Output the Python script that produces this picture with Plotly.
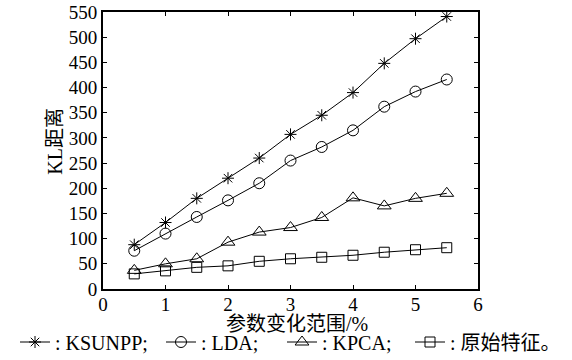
import plotly.graph_objects as go

x_vals = [0.5, 1, 1.5, 2, 2.5, 3, 3.5, 4, 4.5, 5, 5.5]
ksunpp = [88, 132, 180, 220, 260, 307, 345, 390, 448, 497, 541]
lda = [76, 110, 143, 176, 210, 255, 282, 315, 362, 392, 416]
kpca = [37, 50, 60, 93, 113, 122, 142, 181, 165, 180, 190]
orig = [30, 36, 43, 46, 55, 60, 63, 67, 73, 78, 82]

names = [": KSUNPP;", ": LDA;", ": KPCA;", ": 原始特征。"]
symbols = ["asterisk-open", "circle-open", "triangle-up-open", "square-open"]
sizes = [10, 11, 12, 10]
series = [ksunpp, lda, kpca, orig]
legend_ids = ["legend", "legend2", "legend3", "legend4"]
legend_x = [15, 161, 282, 410]

FONT = "'Times New Roman', 'Liberation Serif', serif"
FONT_CJK = "'Times New Roman', 'Liberation Serif', 'Noto Sans CJK SC', serif"

fig = go.Figure()
for name, ys, sym, sz, lid in zip(names, series, symbols, sizes, legend_ids):
    fig.add_trace(go.Scatter(
        x=x_vals, y=ys, name=name, mode="lines+markers", legend=lid,
        showlegend=True,
        line=dict(color="black", width=1),
        marker=dict(symbol=sym, size=sz, color="black",
                    line=dict(color="black", width=1)),
    ))

axis_common = dict(
    showline=True, linecolor="black", linewidth=2, mirror="ticks",
    ticks="inside", ticklen=4, tickwidth=1, tickcolor="black",
    showgrid=False, zeroline=False,
    tickfont=dict(family=FONT, size=19, color="black"),
)

layout_legends = {}
for lid, lx in zip(legend_ids, legend_x):
    layout_legends[lid] = dict(
        xref="container", yref="container",
        x=lx / 572, xanchor="left", y=1 - 342 / 360, yanchor="middle",
        font=dict(family=FONT_CJK, size=20, color="black"),
        bgcolor="rgba(0,0,0,0)", borderwidth=0, visible=True,
    )

fig.update_layout(
    width=572, height=360,
    margin=dict(l=103, r=94, t=12, b=71, autoexpand=False),
    paper_bgcolor="white", plot_bgcolor="white",
    showlegend=True,
    font=dict(family=FONT_CJK, size=19, color="black"),
    xaxis=dict(range=[0, 6], dtick=1, ticklabelstandoff=-3, **axis_common),
    yaxis=dict(range=[0, 550], dtick=50, **axis_common),
    annotations=[
        dict(text="参数变化范围/%", xref="paper", yref="paper",
             x=0.517, y=-0.125, xanchor="center", yanchor="middle",
             showarrow=False, font=dict(family=FONT_CJK, size=20)),
        dict(text="KL距离", xref="paper", yref="paper", textangle=-90,
             x=-0.128, y=0.532, xanchor="center", yanchor="middle",
             showarrow=False, font=dict(family=FONT_CJK, size=20)),
    ],
    **layout_legends,
)

fig.write_html("out.html", config={"displayModeBar": False},
               post_script="document.body.style.margin='0';")
